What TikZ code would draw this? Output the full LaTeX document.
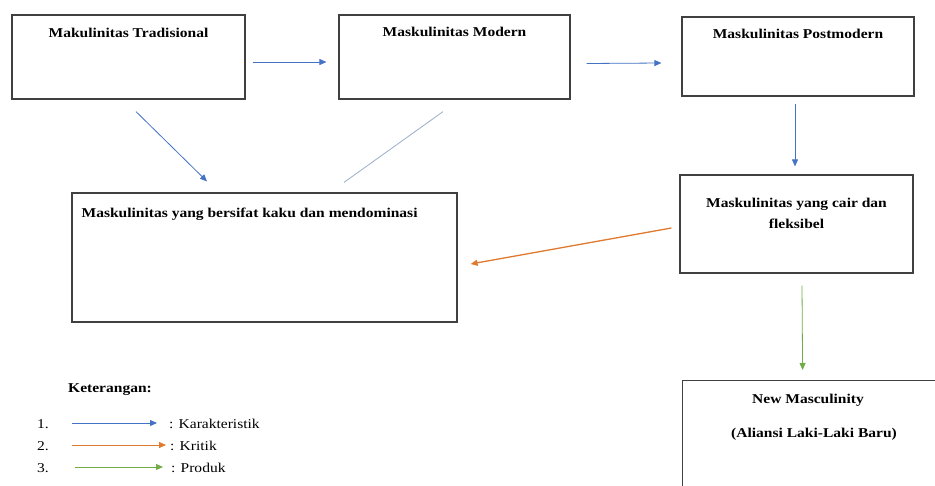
\documentclass[tikz,border=0pt]{standalone}
\usepackage{fontspec}
\setmainfont[FakeStretch=1.15]{Liberation Serif}
\usetikzlibrary{arrows.meta,calc}
\definecolor{boxline}{HTML}{404040}
\definecolor{wblue}{HTML}{4472C4}
\definecolor{wgrey}{HTML}{9AAFCB}
\definecolor{worange}{HTML}{E07A2E}
\definecolor{wgreen}{HTML}{70AD47}
\tikzset{
  box/.style={draw=boxline, line width=1.2pt, rectangle, inner sep=0pt},
  title/.style={font=\fontsize{13.5}{16}\selectfont\bfseries, inner sep=0pt, align=center},
  legtext/.style={font=\fontsize{13.5}{16}\selectfont, inner sep=0pt, anchor=west},
  conn/.style={line width=0.8pt, -{Triangle[length=7pt,width=6pt]}},
}
\begin{document}
\begin{tikzpicture}[x=1pt,y=-1pt]
\clip (0,0) rectangle (935,485);
\fill[white] (0,0) rectangle (935,485);
% boxes
\node[box, minimum width=233pt, minimum height=84pt] (A) at (128.5,57) {};
\node[box, minimum width=231pt, minimum height=84pt] (B) at (454.5,57) {};
\node[box, minimum width=232pt, minimum height=79pt] (C) at (798,56.5) {};
\node[box, minimum width=233pt, minimum height=98pt] (D) at (796.5,224) {};
\node[box, minimum width=385pt, minimum height=129pt] (E) at (264.5,257.5) {};
\node[box, minimum width=256pt, minimum height=112pt, anchor=north west] (F) at (682,380) {};
% titles
\node[title] (tA) at ($(A.north)+(0,18)$) {Makulinitas Tradisional};
\node[title] (tB) at ($(B.north)+(0,17)$) {Maskulinitas Modern};
\node[title] (tC) at ($(C.north)+(0,17)$) {Maskulinitas Postmodern};
\node[title, anchor=north] (tD) at ($(D.north)+(0,24)$) {Maskulinitas yang cair dan\\[5pt]fleksibel};
\node[title, anchor=west] (tE) at ($(E.north west)+(10,22)$) {Maskulinitas yang bersifat kaku dan mendominasi};
\node[title, anchor=north] (tF1) at ($(F.north west)+(126,14)$) {New Masculinity};
\node[title, anchor=north] (tF2) at ($(F.north west)+(132,48)$) {(Aliansi Laki-Laki Baru)};
% connectors
\draw[conn, wblue] ($(A.east)+(7,5)$) -- ($(B.west)+(-12,5)$);
\draw[conn, wblue] ($(B.east)+(16,6.5)$) -- ($(C.west)+(-20,6.5)$);
\draw[conn, wblue] ($(C.south)+(-3,7)$) -- ($(D.north)+(-1.5,-8)$);
\draw[conn, wblue] ($(A.south)+(7.5,12)$) -- ($(E.north)+(-57.5,-11)$);
\draw[line width=0.8pt, wgrey] ($(B.south)+(-11.5,12)$) -- ($(E.north)+(79.5,-10)$);
\draw[conn, worange, line width=1.3pt] ($(D.west)+(-8,4)$) -- ($(E.east)+(13,6.5)$);
\draw[conn, wgreen] ($(D.south)+(5.5,12)$) -- ($(F.north)+(-8,-10)$);
% legend
\node[title, anchor=west] (leg) at (68,390) {Keterangan:};
\node[legtext] (n1) at (37,424) {1.};
\node[legtext] (n2) at (37,446) {2.};
\node[legtext] (n3) at (37,468) {3.};
\coordinate (s1) at (72,423);
\coordinate (s2) at (72,445);
\coordinate (s3) at (75,467);
\node[legtext] (l1) at (169,424) {: Karakteristik};
\node[legtext] (l2) at (170,446) {: Kritik};
\node[legtext] (l3) at (171,468) {: Produk};
\draw[conn, wblue] (s1) -- ($(l1.west)+(-12,-1)$);
\draw[conn, worange] (s2) -- ($(l2.west)+(-4,-1)$);
\draw[conn, wgreen] (s3) -- ($(l3.west)+(-8,-1)$);
\end{tikzpicture}
\end{document}
